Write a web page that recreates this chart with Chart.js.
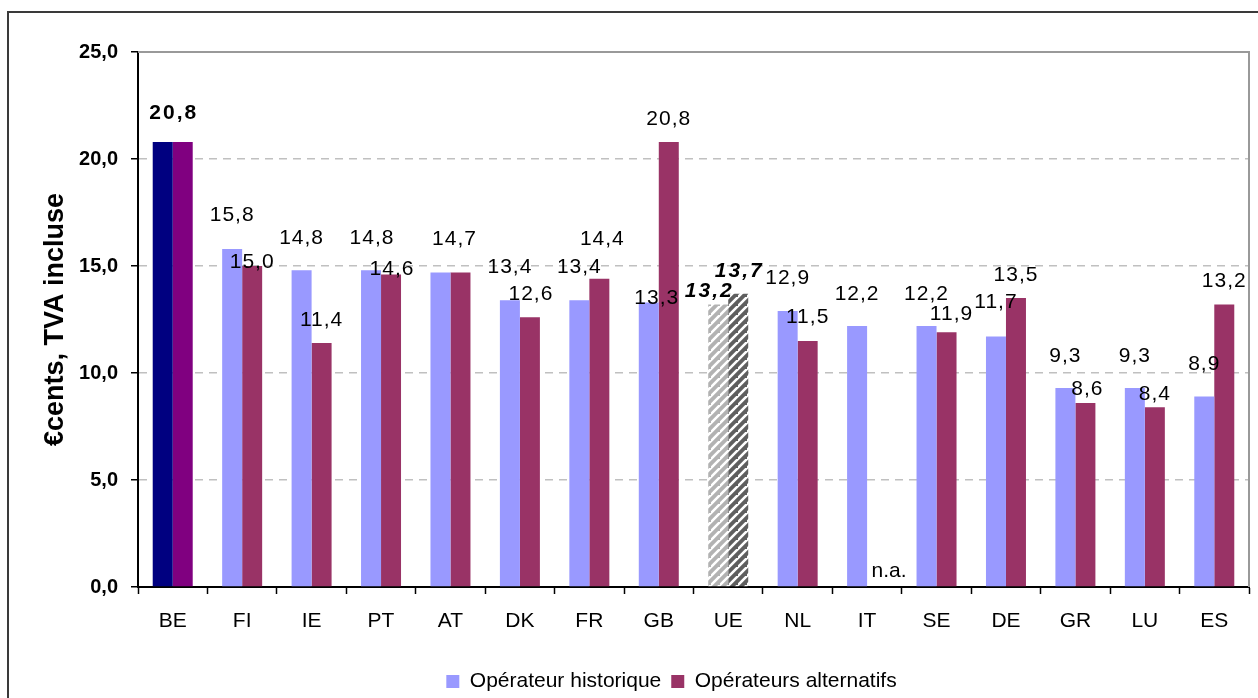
<!DOCTYPE html>
<html lang="fr">
<head>
<meta charset="utf-8">
<title>Prix moyen — Opérateur historique / Opérateurs alternatifs</title>
<script src="https://cdn.jsdelivr.net/npm/chart.js@4/dist/chart.umd.min.js"></script>
<style>
  html, body { margin: 0; padding: 0; background: #fff; overflow: hidden; }
  #wrap { position: relative; width: 1258px; height: 698px; overflow: hidden; }
  canvas { display: block; }
</style>
</head>
<body>
<div id="wrap"><canvas id="chart" width="1258" height="720"></canvas></div>
<script>
// Pays (UE = moyenne européenne)
const categories = ['BE','FI','IE','PT','AT','DK','FR','GB','UE','NL','IT','SE','DE','GR','LU','ES'];
// €cents, TVA incluse
const historique  = [20.8, 15.8, 14.8, 14.8, 14.7, 13.4, 13.4, 13.3, 13.2, 12.9, 12.2, 12.2, 11.7, 9.3, 9.3, 8.9];
const alternatifs = [20.8, 15.0, 11.4, 14.6, 14.7, 12.6, 14.4, 20.8, 13.7, 11.5, null, 11.9, 13.5, 8.6, 8.4, 13.2];
const yTicks = [0, 5, 10, 15, 20, 25];

const FONT = "'Liberation Sans', Arial, sans-serif";
const COL_HIST = '#9999FF';
const COL_ALT = '#993366';
const COL_HIST_BE = '#000080';
const COL_ALT_BE = '#800080';
const IDX_BE = categories.indexOf('BE');
const IDX_UE = categories.indexOf('UE');

// diagonal hatching for the EU average
function hatch(base) {
  const s = 9;
  const c = document.createElement('canvas');
  c.width = s; c.height = s;
  const g = c.getContext('2d');
  g.fillStyle = base;
  g.fillRect(0, 0, s, s);
  g.strokeStyle = '#ffffff';
  g.lineWidth = 2.6;
  g.beginPath();
  g.moveTo(-1, s + 1); g.lineTo(s + 1, -1);
  g.moveTo(-s - 1, s + 1); g.lineTo(1, -1);
  g.moveTo(s - 1, 2 * s + 1); g.lineTo(2 * s + 1, s - 1);
  g.stroke();
  return g.createPattern(c, 'repeat');
}
const HATCH_LIGHT = hatch('#b2b2b2');
const HATCH_DARK = hatch('#5f5f5f');

const histColors = categories.map((c, i) => i === IDX_BE ? COL_HIST_BE : i === IDX_UE ? HATCH_LIGHT : COL_HIST);
const altColors  = categories.map((c, i) => i === IDX_BE ? COL_ALT_BE  : i === IDX_UE ? HATCH_DARK  : COL_ALT);

// label nudges (px) relative to the top centre of each bar; null = label not drawn
const histNudge = [[11,-29],[0,-34],[0,-32],[1,-32],[14,-33],[0,-33],[0,-33],[8,-4],[-9,-13.5],[0,-33],[0,-32],[0,-32],[0,-34],[0,-32],[0,-32],[0,-32.5]];
const altNudge  = [null,[0,-3.5],[0,-23],[1,-5],null,[1,-23],[3,-40],[0,-23],[1,-23],[0,-24],[12,-9],[5,-18],[0,-22.5],[2,-14],[0,-13],[0,-23.5]];

const fmt = v => v.toFixed(1).replace('.', ',');

const valueLabels = {
  id: 'valueLabels',
  afterDatasetsDraw(chart) {
    const ctx = chart.ctx;
    const nudges = [histNudge, altNudge];
    ctx.save();
    ctx.textAlign = 'center';
    ctx.textBaseline = 'middle';
    ctx.fillStyle = '#000';
    chart.data.datasets.forEach((ds, d) => {
      const meta = chart.getDatasetMeta(d);
      meta.data.forEach((bar, i) => {
        const n = nudges[d][i];
        if (!n) return;
        const v = ds.data[i];
        if (i === IDX_BE) {
          ctx.font = `bold 21px ${FONT}`;
          ctx.letterSpacing = '2px';
        } else if (i === IDX_UE) {
          ctx.font = `italic bold 21px ${FONT}`;
          ctx.letterSpacing = '2px';
        } else {
          ctx.font = `21px ${FONT}`;
          ctx.letterSpacing = '1px';
        }
        if (v === null) {
          const base = chart.scales.y.getPixelForValue(0);
          ctx.letterSpacing = '0px';
          ctx.fillText('n.a.', bar.x + n[0], base + n[1] - 7);
        } else {
          ctx.fillText(fmt(v), bar.x + n[0], bar.y + n[1]);
        }
      });
    });
    ctx.restore();
  }
};

const frame = {
  id: 'frame',
  beforeDraw(chart) {
    const ctx = chart.ctx;
    ctx.save();
    ctx.fillStyle = '#fff';
    ctx.fillRect(0, 0, chart.width, chart.height);
    ctx.strokeStyle = '#3a3a3a';
    ctx.lineWidth = 2;
    ctx.beginPath();
    ctx.moveTo(8, chart.height);
    ctx.lineTo(8, 12);
    ctx.lineTo(chart.width, 12);
    ctx.stroke();
    ctx.restore();
  },
  afterDraw(chart) {
    const {left, top, right} = chart.chartArea;
    const ctx = chart.ctx;
    ctx.save();
    ctx.strokeStyle = '#999999';
    ctx.lineWidth = 2;
    ctx.beginPath();
    ctx.moveTo(left, top);
    ctx.lineTo(right, top);
    ctx.lineTo(right, chart.chartArea.bottom);
    ctx.stroke();
    ctx.restore();
  },
  afterLayout(chart) {
    // centre the legend under the frame
    if (chart.legend) {
      chart.legend.left += 47;
      chart.legend.right += 47;
    }
  }
};

new Chart(document.getElementById('chart'), {
  type: 'bar',
  data: {
    labels: categories,
    datasets: [
      { label: 'Opérateur historique', data: historique, backgroundColor: histColors,
        categoryPercentage: 0.576, barPercentage: 1.0 },
      { label: 'Opérateurs alternatifs', data: alternatifs, backgroundColor: altColors,
        categoryPercentage: 0.576, barPercentage: 1.0 }
    ]
  },
  options: {
    responsive: false,
    animation: false,
    devicePixelRatio: 1,
    layout: { padding: { left: 0, right: 9, top: 52, bottom: 18 } },
    plugins: {
      title: { display: false },
      tooltip: { enabled: false },
      legend: {
        position: 'bottom',
        labels: {
          font: { family: FONT, size: 21 },
          color: '#000',
          boxWidth: 13,
          boxHeight: 13,
          padding: 10,
          generateLabels(chart) {
            return chart.data.datasets.map((ds, i) => ({
              text: ds.label,
              fillStyle: i === 0 ? COL_HIST : COL_ALT,
              strokeStyle: 'rgba(0,0,0,0)',
              lineWidth: 0,
              hidden: false,
              datasetIndex: i
            }));
          }
        }
      }
    },
    scales: {
      x: {
        afterFit(scale) { scale.height = 74; },
        grid: {
          display: true,
          offset: true,
          drawOnChartArea: false,
          drawTicks: true,
          tickLength: 7,
          tickColor: '#000',
          tickWidth: 1.5
        },
        border: { display: true, color: '#000', width: 2 },
        ticks: {
          color: '#000',
          font: { family: FONT, size: 21 },
          padding: 15,
          maxRotation: 0,
          autoSkip: false
        }
      },
      y: {
        min: 0,
        max: 25,
        afterFit(scale) { scale.width = 138; },
        afterBuildTicks(scale) { scale.ticks = yTicks.map(v => ({ value: v })); },
        grid: {
          color: ctx => (ctx.tick && (ctx.tick.value === 0 || ctx.tick.value === 25)) ? 'rgba(0,0,0,0)' : '#c0c0c0',
          lineWidth: 1.5,
          drawTicks: true,
          tickLength: 7,
          tickColor: '#000',
          tickWidth: 1.5,
          tickBorderDash: []
        },
        border: { display: true, color: '#000', width: 2, dash: [8, 6] },
        ticks: {
          color: '#000',
          font: { family: FONT, size: 20, weight: 'bold' },
          padding: 13,
          callback: v => fmt(v)
        },
        title: {
          display: true,
          text: '€cents, TVA incluse',
          color: '#000',
          font: { family: FONT, size: 27, weight: 'bold' },
          padding: { top: 39, bottom: 0 }
        }
      }
    }
  },
  plugins: [frame, valueLabels]
});
</script>
</body>
</html>
